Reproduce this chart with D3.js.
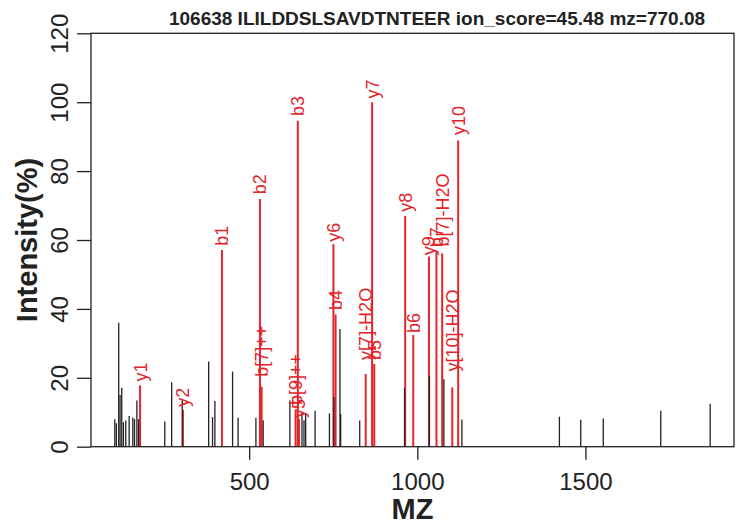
<!DOCTYPE html>
<html>
<head>
<meta charset="utf-8">
<script src="https://cdn.jsdelivr.net/npm/d3@7"></script>
<style>
  html, body { margin: 0; padding: 0; background: #fff; }
  svg { display: block; font-family: "Liberation Sans", Arial, Helvetica, sans-serif; }
</style>
</head>
<body>
<svg id="chart" width="745" height="525"></svg>
<script>
// ---- data ----
const titleText = "106638 ILILDDSLSAVDTNTEER ion_score=45.48 mz=770.08";
const xLabel = "MZ";
const yLabel = "Intensity(%)";
const xTicks = [500, 1000, 1500];
const yTicks = [0, 20, 40, 60, 80, 100, 120];

// unmatched peaks (black)
const peakMz  = [100.4, 105, 112, 116, 121, 126, 133, 143, 154, 159, 166, 171, 249, 269.5, 301, 379.5, 391, 398,
                 450.6, 467, 520, 541.6, 621, 657, 663, 668, 696, 738.7, 752, 770, 772, 828.7, 962, 1036, 1079,
                 1132.6, 1422.6, 1486, 1553, 1724, 1871];
const peakInt = [8.0, 6.8, 36.0, 15.0, 17.1, 7.1, 7.6, 8.9, 8.5, 8.0, 13.4, 8.0, 7.3, 18.7, 13.4, 24.7, 8.6, 13.3,
                 21.8, 8.4, 8.4, 7.7, 13.4, 10.1, 7.7, 9.6, 10.4, 9.7, 14.4, 34.2, 9.5, 7.6, 17.0, 20.5, 19.6,
                 7.9, 8.7, 7.8, 8.2, 10.4, 12.5];

// matched fragment ions (red)
const ionLabel = ["y1", "y2", "b1", "b2", "b[7]++", "b[9]++", "b3", "y5", "y6", "b4", "y[7]-H2O", "y7", "b5",
                  "y8", "b6", "y9", "b7", "b[7]-H2O", "y[10]-H2O", "y10"];
const ionMz    = [175.5, 303, 419, 532, 537, 638, 644.6, 648, 750.5, 757, 846.5, 865.6, 872,
                  964, 988, 1034.6, 1057, 1074, 1104, 1121.6];
const ionInt   = [17.8, 10.7, 57.1, 71.9, 17.4, 10.5, 94.6, 8.0, 58.8, 38.4, 21.1, 100, 24.0,
                  67.0, 32.4, 55.2, 56.9, 56.1, 17.2, 88.9];
const labelAt  = [18.9, 11.6, 58.3, 73.3, 20.3, 12.1, 96.0, 8.3, 59.5, 39.7, 25.2, 101.1, 25.2,
                  68.2, 33.0, 55.6, 57.9, 58.1, 21.8, 90.5];

// ---- layout ----
const W = 745, H = 525;
const margin = { left: 91, right: 11, top: 33.3, bottom: 78.3 };
const svg = d3.select("#chart");

const allMz = peakMz.concat(ionMz);
const [mzMin, mzMax] = d3.extent(allMz);
const pad = (mzMax - mzMin) * 0.04;

const x = d3.scaleLinear()
  .domain([mzMin - pad, mzMax + pad])
  .range([margin.left, W - margin.right]);
const y = d3.scaleLinear()
  .domain([0, 120])
  .range([H - margin.bottom, margin.top]);

const RED = "#e3242b";
const INK = "#222";

// red matched peaks
svg.append("g").selectAll("line")
  .data(ionMz.map((m, i) => ({ m, v: ionInt[i] })))
  .join("line")
  .attr("x1", d => x(d.m)).attr("x2", d => x(d.m))
  .attr("y1", y(0)).attr("y2", d => y(d.v))
  .attr("stroke", RED).attr("stroke-width", 2);

// black peaks
svg.append("g").selectAll("line")
  .data(peakMz.map((m, i) => ({ m, v: peakInt[i] })))
  .join("line")
  .attr("x1", d => x(d.m)).attr("x2", d => x(d.m))
  .attr("y1", y(0)).attr("y2", d => y(d.v))
  .attr("stroke", INK).attr("stroke-width", 1.3);

// ion labels
svg.append("g").selectAll("text")
  .data(ionLabel.map((t, i) => ({ t, m: ionMz[i], at: labelAt[i] })))
  .join("text")
  .attr("transform", d => `translate(${x(d.m)},${y(d.at)}) rotate(-90)`)
  .attr("text-anchor", "start")
  .attr("dy", "0.36em")
  .attr("fill", RED)
  .attr("font-size", 18)
  .text(d => d.t);

// box
svg.append("rect")
  .attr("x", margin.left).attr("y", margin.top)
  .attr("width", W - margin.left - margin.right)
  .attr("height", H - margin.top - margin.bottom)
  .attr("fill", "none").attr("stroke", INK).attr("stroke-width", 1.3);

// x axis
const xAxis = d3.axisBottom(x).tickValues(xTicks).tickSize(13).tickPadding(8).tickFormat(d3.format("d"));
const gx = svg.append("g").attr("transform", `translate(0,${y(0)})`).call(xAxis);
gx.select(".domain").remove();
gx.selectAll("line").attr("stroke", INK).attr("stroke-width", 1.3);
gx.selectAll("text").attr("font-size", 24).attr("fill", INK).attr("dy", "0.95em");

// y axis
const yAxis = d3.axisLeft(y).tickValues(yTicks).tickSize(14).tickPadding(0).tickFormat(d3.format("d"));
const gy = svg.append("g").attr("transform", `translate(${margin.left},0)`).call(yAxis);
gy.select(".domain").remove();
gy.selectAll("line").attr("stroke", INK).attr("stroke-width", 1.3);
gy.selectAll("text")
  .attr("font-size", 24).attr("fill", INK)
  .attr("text-anchor", "middle")
  .attr("x", null).attr("dy", null)
  .attr("transform", "translate(-23,0) rotate(-90)");

// axis titles
svg.append("text")
  .attr("x", (margin.left + W - margin.right) / 2).attr("y", 519)
  .attr("text-anchor", "middle").attr("font-weight", "bold").attr("font-size", 29).attr("fill", INK)
  .text(xLabel);
svg.append("text")
  .attr("transform", `translate(37,${(margin.top + H - margin.bottom) / 2}) rotate(-90)`)
  .attr("text-anchor", "middle").attr("font-weight", "bold").attr("font-size", 29).attr("fill", INK)
  .text(yLabel);

// title
svg.append("text")
  .attr("x", 437).attr("y", 24.5)
  .attr("text-anchor", "middle").attr("font-weight", "bold").attr("font-size", 19).attr("fill", INK)
  .text(titleText);
</script>
</body>
</html>
